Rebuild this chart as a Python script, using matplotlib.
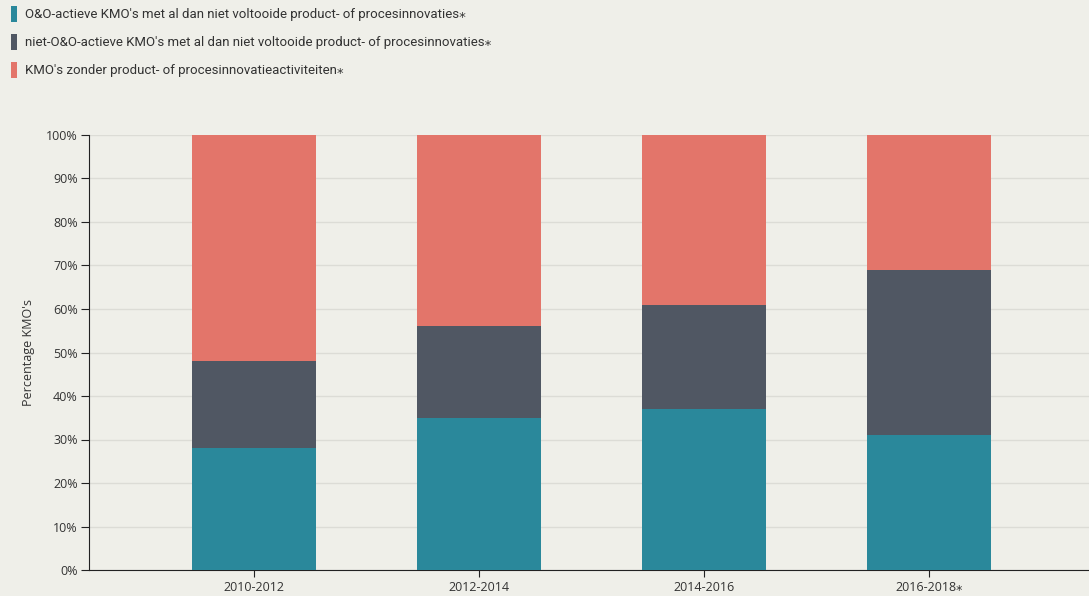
import matplotlib.pyplot as plt

periods = ["2010-2012", "2012-2014", "2014-2016", "2016-2018\u204e"]
oo_actief = [28, 35, 37, 31]
niet_oo_actief = [20, 21, 24, 38]
zonder_innovatie = [52, 44, 39, 31]

labels = [
    "O&O-actieve KMO's met al dan niet voltooide product- of procesinnovaties\u204e",
    "niet-O&O-actieve KMO's met al dan niet voltooide product- of procesinnovaties\u204e",
    "KMO's zonder product- of procesinnovatieactiviteiten\u204e",
]
colors = ["#2a889b", "#505763", "#e3756a"]
bg = "#efefe9"
txt = "#333333"

plt.rcParams["font.family"] = ["Open Sans", "DejaVu Sans"]

fig = plt.figure(figsize=(10.89, 5.96), dpi=100, facecolor=bg)
ax = fig.add_axes([89 / 1089, 1 - 570 / 596, 1 - 89 / 1089, (570 - 135) / 596])
ax.set_facecolor(bg)

x = range(len(periods))
bottom2 = [a + b for a, b in zip(oo_actief, niet_oo_actief)]
ax.bar(x, oo_actief, width=0.55, color=colors[0], label=labels[0], zorder=3)
ax.bar(x, niet_oo_actief, width=0.55, bottom=oo_actief, color=colors[1], label=labels[1], zorder=3)
ax.bar(x, zonder_innovatie, width=0.55, bottom=bottom2, color=colors[2], label=labels[2], zorder=3)

ax.set_xlim(-0.733, 3.71)
ax.set_ylim(0, 100)
ax.set_yticks(range(0, 101, 10))
ax.set_yticklabels([f"{v}%" for v in range(0, 101, 10)])
ax.set_xticks(list(x))
ax.set_xticklabels(periods)
ax.grid(axis="y", color="#dcdcd6", linewidth=1, zorder=0)

for s in ["top", "right"]:
    ax.spines[s].set_visible(False)
ax.spines["left"].set_color("#222222")
ax.spines["bottom"].set_color("#222222")
ax.tick_params(axis="y", length=6, color="#222222", labelsize=9, labelcolor=txt, pad=2)
ax.tick_params(axis="x", length=5, color="#222222", labelsize=9, labelcolor=txt, pad=3)
ax.set_ylabel("Percentage KMO's", fontsize=9, color=txt, labelpad=8)

fig.legend(loc="upper left", bbox_to_anchor=(-0.001, 1.01), frameon=False,
           handlelength=0.5, handleheight=1.5, handletextpad=0.55,
           labelspacing=0.9, labelcolor=txt,
           prop={"family": ["Roboto", "DejaVu Sans"], "size": 9.5})

fig.savefig("out.png", dpi=100, facecolor=bg)
